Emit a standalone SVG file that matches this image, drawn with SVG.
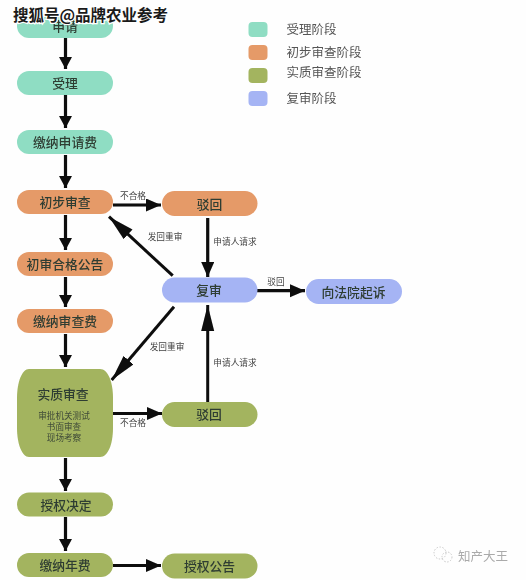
<svg xmlns="http://www.w3.org/2000/svg" width="526" height="580" viewBox="0 0 526 580">
<style>
text{font-family:"Noto Sans CJK SC","Noto Sans",sans-serif;text-anchor:middle;fill:#2f3d33}
.n{font-size:12.800px;font-weight:500}
.s{font-size:8.600px;fill:#3f4a38}
.e{font-size:8.700px;fill:#444}
.l{font-size:12.500px;text-anchor:start;fill:#555}
.a{fill:#8fddc3}.b{fill:#e59a68}.c{fill:#a3b45f}.d{fill:#a5b4f4}
.k{stroke:#0a0a0a;stroke-width:3.200;fill:none;marker-end:url(#h)}
.m{stroke:#0a0a0a;stroke-width:3.200;fill:none;marker-end:url(#h2)}
.o{stroke:#0a0a0a;stroke-width:3;fill:none;marker-end:url(#h3)}
</style>
<defs>
<marker id="h" markerUnits="userSpaceOnUse" markerWidth="14" markerHeight="14" refX="12" refY="6.500" orient="auto"><path d="M0 0L12 6.500L0 13Z" fill="#0a0a0a"/></marker>
<marker id="h2" markerUnits="userSpaceOnUse" markerWidth="17" markerHeight="14" refX="15" refY="6.500" orient="auto"><path d="M0 0L15 6.500L0 13Z" fill="#0a0a0a"/></marker>
<marker id="h3" markerUnits="userSpaceOnUse" markerWidth="28" markerHeight="14" refX="26" refY="6.500" orient="auto"><path d="M0 0L26 6.500L0 13Z" fill="#0a0a0a"/></marker>
<filter id="soft" x="0" y="0" width="100%" height="100%"><feGaussianBlur stdDeviation="0.450"/></filter>
</defs>
<rect width="526" height="580" fill="#fefefe"/>
<g filter="url(#soft)">
<g id="connectors">
<path class="k" d="M65.500 38V69"/>
<path class="k" d="M65.500 95V128"/>
<path class="k" d="M65.500 155V188"/>
<path class="k" d="M65.500 215V250"/>
<path class="k" d="M65.500 277V307"/>
<path class="k" d="M65.500 334V367"/>
<path class="k" d="M65.500 458V491"/>
<path class="k" d="M65.500 517V551"/>
<path class="m" d="M113 205H161"/>
<path class="m" d="M113 413.500H162"/>
<path class="m" d="M113 565.500H161"/>
<path class="m" d="M207.700 218V277"/>
<path class="o" d="M207.700 402V305"/>
<path class="m" d="M257 290.700H305"/>
<path class="o" d="M172.700 275.700L109 216.700"/>
<path class="o" d="M174 306.700L111.700 380"/>
</g>
<g id="edge-labels">
<text class="e" x="133" y="199">不合格</text>
<text class="e" x="133" y="426">不合格</text>
<text class="e" x="165" y="240">发回重审</text>
<text class="e" x="167" y="350">发回重审</text>
<text class="e" x="235" y="245">申请人请求</text>
<text class="e" x="235" y="366">申请人请求</text>
<text class="e" x="276" y="285">驳回</text>
</g>
<g id="n1"><rect class="a" x="17" y="14" width="96" height="24" rx="12"/><text class="n" x="65" y="31">申请</text></g>
<g id="n2"><rect class="a" x="17" y="71" width="96" height="24" rx="12"/><text class="n" x="65" y="87.500">受理</text></g>
<g id="n3"><rect class="a" x="17" y="130" width="96" height="24" rx="12"/><text class="n" x="65" y="146.500">缴纳申请费</text></g>
<g id="n4"><rect class="b" x="17" y="190" width="96" height="24" rx="12"/><text class="n" x="65" y="207">初步审查</text></g>
<g id="n5"><rect class="b" x="17" y="252" width="96" height="24" rx="12"/><text class="n" x="65" y="269">初审合格公告</text></g>
<g id="n6"><rect class="b" x="17" y="309" width="96" height="24" rx="12"/><text class="n" x="65" y="326">缴纳审查费</text></g>
<g id="n7"><path class="c" d="M29 369H100C108 369 113 382 113 398V428C113 444 108 457 100 457H29C22 457 17 444 17 428V398C17 382 22 369 29 369Z"/><text class="n" x="63" y="399">实质审查</text><text class="s" x="64" y="419">审批机关测试</text><text class="s" x="64" y="430">书面审查</text><text class="s" x="64" y="441">现场考察</text></g>
<g id="n8"><rect class="c" x="17" y="492.500" width="96" height="24" rx="12"/><text class="n" x="66" y="509.500">授权决定</text></g>
<g id="n9"><rect class="c" x="17" y="553" width="96" height="24" rx="12"/><text class="n" x="65" y="570">缴纳年费</text></g>
<g id="n10"><rect class="b" x="162" y="191" width="95.500" height="25" rx="12.500"/><text class="n" x="209.500" y="208.500">驳回</text></g>
<g id="n11"><rect class="d" x="162" y="277.500" width="95.500" height="25" rx="12.500"/><text class="n" x="209" y="294.500">复审</text></g>
<g id="n12"><rect class="d" x="306" y="279" width="96" height="25" rx="12.500"/><text class="n" x="353.500" y="296.500">向法院起诉</text></g>
<g id="n13"><rect class="c" x="162" y="402" width="95.500" height="25" rx="12.500"/><text class="n" x="209" y="419">驳回</text></g>
<g id="n14"><rect class="c" x="162" y="553.500" width="95.500" height="25" rx="12.500"/><text class="n" x="209.500" y="571">授权公告</text></g>
<g id="legend">
<rect class="a" x="248.500" y="22" width="19" height="15" rx="4"/><text class="l" x="286.500" y="33.500">受理阶段</text>
<rect class="b" x="248.500" y="45" width="19" height="15" rx="4"/><text class="l" x="286.500" y="57">初步审查阶段</text>
<rect class="c" x="248.500" y="68" width="19" height="15" rx="4"/><text class="l" x="286.500" y="77">实质审查阶段</text>
<rect class="d" x="248.500" y="91" width="19" height="15" rx="4"/><text class="l" x="286.500" y="102.500">复审阶段</text>
</g>
<g id="watermark-2">
<g fill="none" stroke="#c8c8c8" stroke-width="1" stroke-dasharray="1.500 1.500"><circle cx="440" cy="553" r="6"/><circle cx="447" cy="557" r="5"/></g>
<text x="458" y="561" style="text-anchor:start;font-size:12.500px;fill:#aaa">知产大王</text>
</g>
</g>
<g id="watermark">
<text x="13" y="21" style="text-anchor:start;font-size:15.500px;font-weight:700;fill:#1a1a1a;stroke:#fff;stroke-width:2.500px;paint-order:stroke">搜狐号@品牌农业参考</text>
</g>
</svg>
